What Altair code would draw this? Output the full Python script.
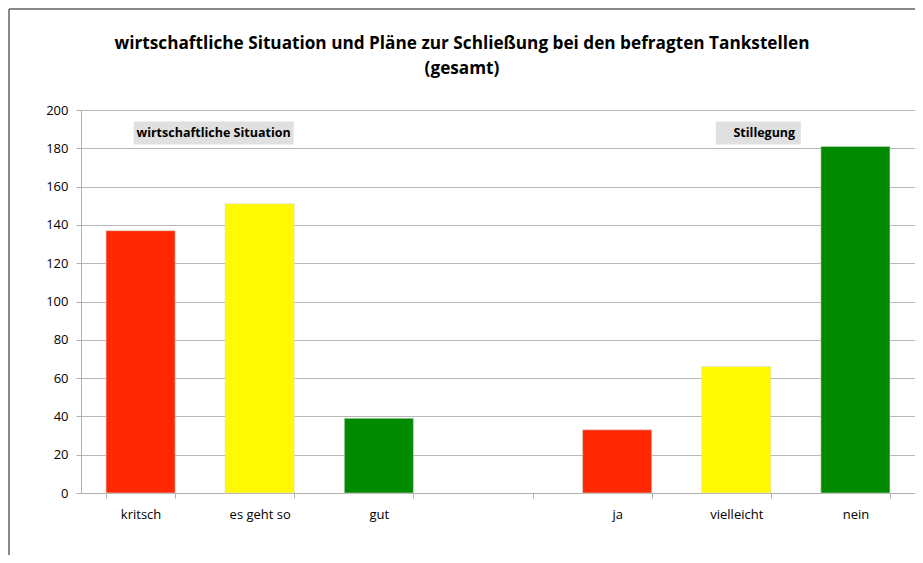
import altair as alt
import pandas as pd

categories = ["kritsch", "es geht so", "gut", " ", "ja", "vielleicht", "nein"]
bar_categories = ["kritsch", "es geht so", "gut", "ja", "vielleicht", "nein"]
values = [137, 151, 39, 33, 66, 181]
colors = ["#FF2800", "#FFFA00", "#008A00", "#FF2800", "#FFFA00", "#008A00"]

ann_text = ["wirtschaftliche Situation", "Stillegung"]
ann_cat = ["kritsch", "vielleicht"]
ann_y = [188, 188]

title_lines = ["wirtschaftliche Situation und Pläne zur Schließung bei den befragten Tankstellen", "(gesamt)"]

FONT = "Open Sans"

df = pd.DataFrame({"cat": bar_categories, "value": values, "color": colors})
ann = pd.DataFrame({"cat": ann_cat, "y": ann_y, "text": ann_text})
one = pd.DataFrame({"k": [0]})

x_scale = alt.Scale(domain=categories, paddingInner=0.42, paddingOuter=0.21)
x_axis = alt.Axis(
    title=None, labelAngle=0, tickBand="extent", domainColor="#b0b0b0",
    tickColor="#b0b0b0", tickSize=5, labelPadding=10, labelFont=FONT,
    labelFontSize=13, labelColor="#000000", grid=False,
)
y_scale = alt.Scale(domain=[0, 200], nice=False)
y_axis = alt.Axis(
    title=None, values=list(range(0, 201, 20)), labelOverlap=False,
    domainColor="#b0b0b0", tickColor="#b0b0b0", tickSize=5,
    gridColor="#b8b8b8", gridWidth=1, labelFont=FONT, labelFontSize=13,
    labelColor="#000000", labelPadding=8,
)

X = alt.X("cat:N", scale=x_scale, sort=categories, axis=x_axis)

bars = alt.Chart(df).mark_bar(stroke="#d8d8d8", strokeWidth=0.6).encode(
    x=X,
    y=alt.Y("value:Q", scale=y_scale, axis=y_axis),
    color=alt.Color("color:N", scale=None),
)

Ya = alt.Y("y:Q", scale=y_scale, axis=y_axis)

box1 = alt.Chart(ann.iloc[[0]]).mark_point(
    shape="M-1,-0.144L1,-0.144L1,0.144L-1,0.144Z", size=160 * 160, filled=True,
    color="#e0e0e0", opacity=1, xOffset=73,
).encode(x=X, y=Ya)

box2 = alt.Chart(ann.iloc[[1]]).mark_point(
    shape="M-1,-0.27L1,-0.27L1,0.27L-1,0.27Z", size=85 * 85, filled=True,
    color="#e0e0e0", opacity=1, xOffset=22,
).encode(x=X, y=Ya)

txt1 = alt.Chart(ann.iloc[[0]]).mark_text(
    font=FONT, fontSize=12.5, fontWeight="bold", color="#000000", dx=73,
).encode(x=X, y=Ya, text="text:N")

txt2 = alt.Chart(ann.iloc[[1]]).mark_text(
    font=FONT, fontSize=12.5, fontWeight="bold", color="#000000", dx=28,
).encode(x=X, y=Ya, text="text:N")

title1 = alt.Chart(one).mark_text(
    font=FONT, fontSize=17.2, fontWeight="bold", color="#000000", text=title_lines[0],
).encode(x=alt.value(381), y=alt.value(-66))
title2 = alt.Chart(one).mark_text(
    font=FONT, fontSize=17.2, fontWeight="bold", color="#000000", text=title_lines[1],
).encode(x=alt.value(381), y=alt.value(-41))

frame_left = alt.Chart(one).mark_rule(color="#888888", strokeWidth=2).encode(
    x=alt.value(-72), y=alt.value(-101), y2=alt.value(470)
)
frame_top = alt.Chart(one).mark_rule(color="#888888", strokeWidth=2).encode(
    x=alt.value(-72), x2=alt.value(850), y=alt.value(-101)
)

chart = alt.layer(bars, box1, box2, txt1, txt2, title1, title2, frame_left, frame_top).properties(
    width=834, height=383,
    autosize=alt.AutoSizeParams(type="none"),
    padding={"left": 73, "top": 102, "right": 0, "bottom": 62},
).configure_view(strokeWidth=0).configure(background="#ffffff")

chart.save("out.html", embed_options={"renderer": "svg", "actions": False})
